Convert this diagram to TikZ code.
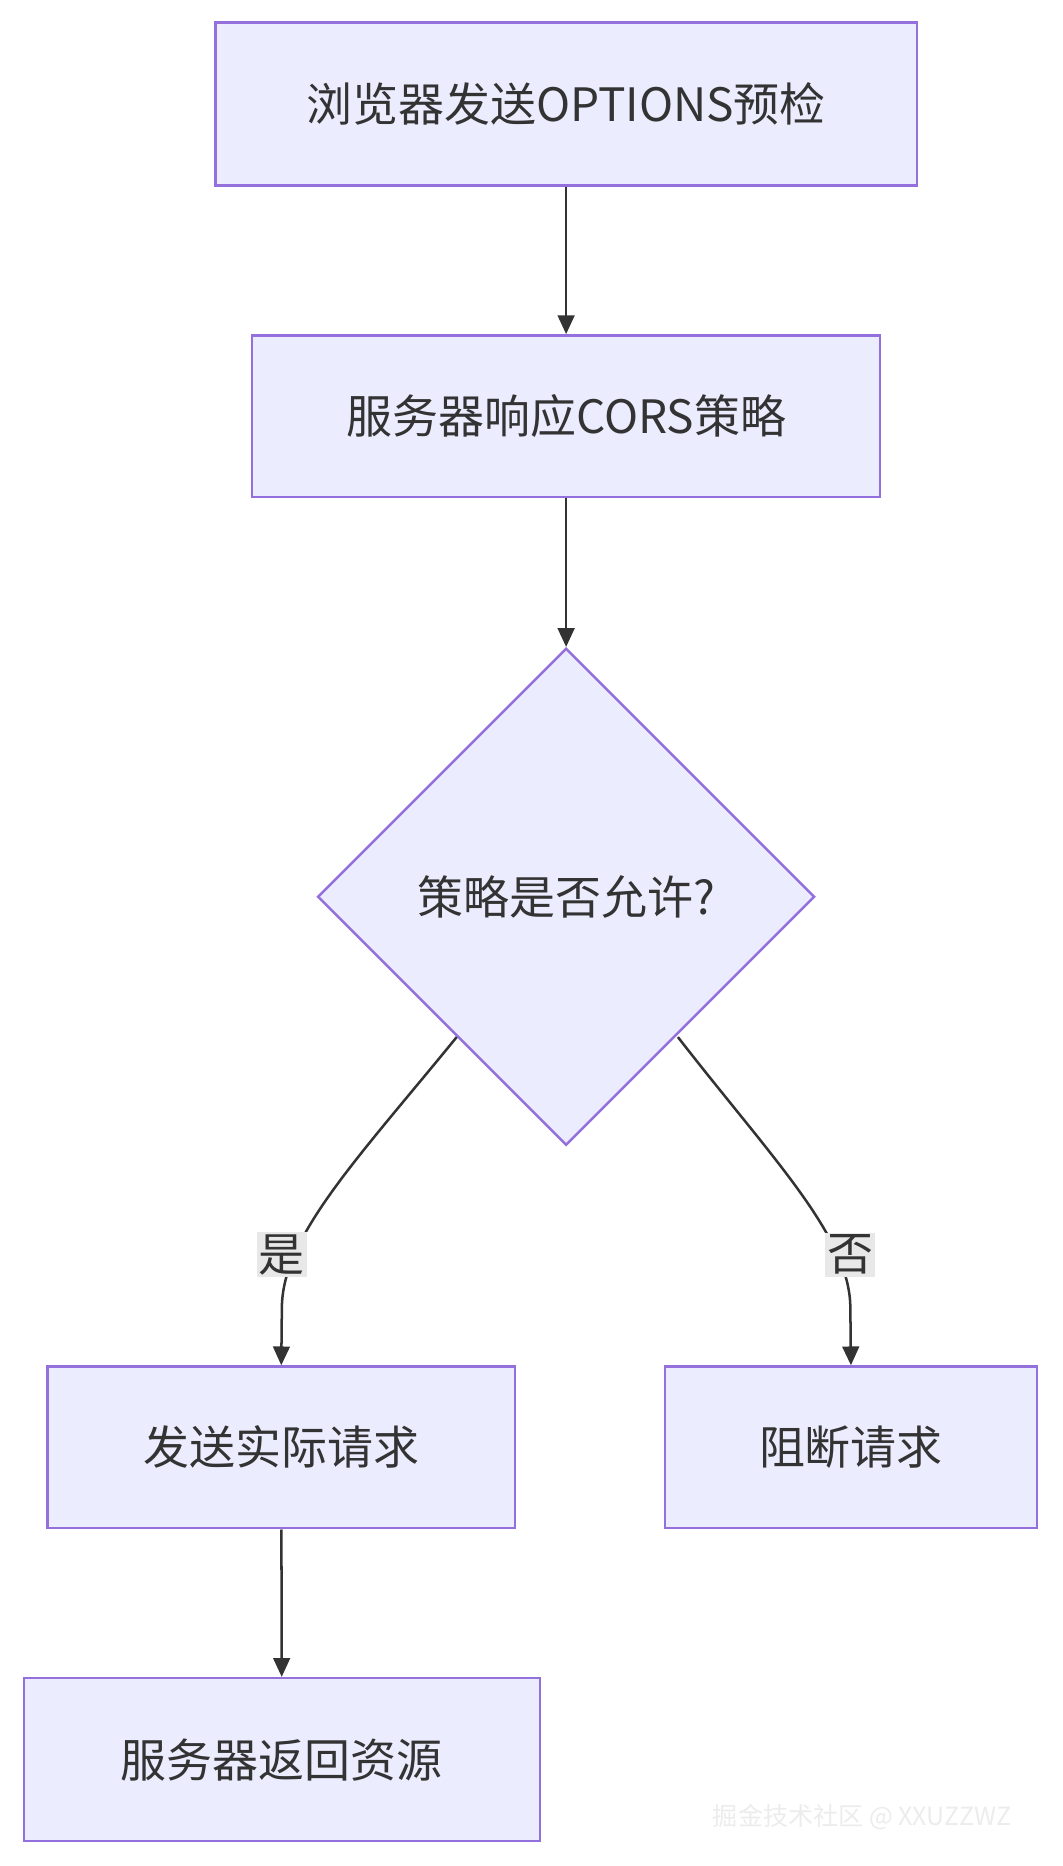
\documentclass[tikz,border=0pt]{standalone}
\usepackage{fontspec}
\setmainfont{Noto Sans CJK SC}
\usetikzlibrary{shapes.geometric,arrows.meta}
\definecolor{nfill}{HTML}{ECECFF}
\definecolor{nline}{HTML}{9370DB}
\definecolor{txt}{HTML}{333333}
\begin{document}
\begin{tikzpicture}[x=0.02cm,y=-0.02cm,
  box/.style={draw=nline,fill=nfill,line width=1.2pt,text=txt,font=\fontsize{22}{26}\selectfont,inner sep=0pt},
  edge/.style={draw=txt,line width=1.2pt,-{Triangle[length=9pt,width=8pt]}},
  lab/.style={fill=black!9,text=txt,font=\fontsize{22}{26}\selectfont,inner sep=1pt}]
\useasboundingbox (0,0) rectangle (893,1569);
\node[box,minimum width=11.8cm,minimum height=2.74cm] (a) at (476,87.5) {浏览器发送OPTIONS预检};
\node[box,minimum width=10.56cm,minimum height=2.72cm] (b) at (476,350) {服务器响应CORS策略};
\node[box,diamond,minimum width=8.36cm,minimum height=8.36cm] (c) at (476,754) {策略是否允许?};
\node[box,minimum width=7.86cm,minimum height=2.72cm] (d) at (236.5,1217) {发送实际请求};
\node[box,minimum width=6.26cm,minimum height=2.72cm] (e) at (715.5,1217) {阻断请求};
\node[box,minimum width=8.68cm,minimum height=2.74cm] (f) at (237,1479.5) {服务器返回资源};
\draw[edge] (a) -- (b);
\draw[edge] (b) -- (c);
\draw[edge] (384,872) .. controls (300,975) and (237,1040) .. (237,1100) -- (d.north);
\draw[edge] (570,872) .. controls (650,975) and (715,1040) .. (715,1100) -- (e.north);
\node[lab] (y) at (237,1055) {是};
\node[lab] (n) at (715,1055) {否};
\draw[edge] (d) -- (f);
\node[text=white!85!gray,font=\fontsize{12}{14}\selectfont] (w) at (725,1528) {掘金技术社区 @ XXUZZWZ};
\end{tikzpicture}
\end{document}
